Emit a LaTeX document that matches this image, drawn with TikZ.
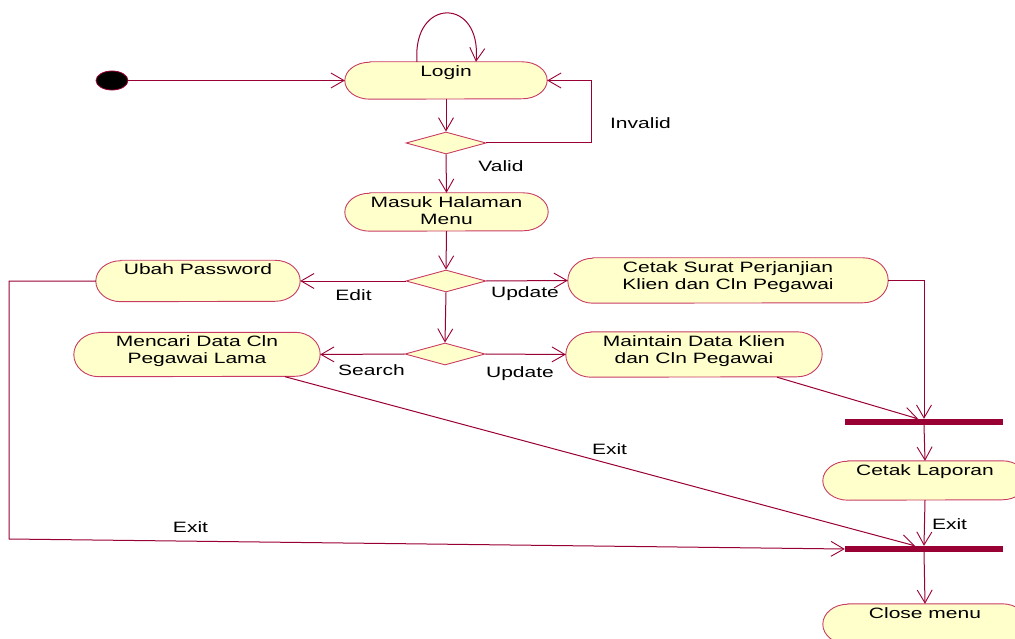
\documentclass[tikz,border=0pt]{standalone}
\usepackage{fontspec}
\setmainfont{Liberation Sans}[FakeStretch=1.4]
\usetikzlibrary{arrows.meta,shapes.geometric,backgrounds}
\definecolor{flow}{RGB}{153,0,51}
\definecolor{edge}{RGB}{200,60,100}
\definecolor{actbg}{RGB}{255,255,204}

\tikzset{
  flowline/.style={draw=flow, line width=1pt,
    -{Straight Barb[length=13pt,width=15pt,line width=0.9pt]}},
  actbox/.style={rectangle, inner sep=0pt},
  actfill/.style={fill=actbg, draw=edge, line width=0.9pt},
  acttext/.style={anchor=north, inner sep=0pt, align=center,
    font=\fontsize{15}{17}\selectfont, yshift=-3.5pt},
  gate/.style={diamond, draw=edge, fill=actbg, line width=0.9pt,
    minimum width=80pt, minimum height=22pt, inner sep=0pt, shape aspect=3.6},
  bar/.style={rectangle, fill=flow, minimum width=158pt, minimum height=6pt, inner sep=0pt},
  guard/.style={anchor=base, inner sep=0pt, font=\fontsize{15}{17}\selectfont},
}

% activity: name, centre x, centre y, width, height, text
\newcommand\actnode[6]{%
  \node[actbox, minimum width=#4pt, minimum height=#5pt,
        label={[acttext]north:{#6}}] (#1) at (#2,#3) {};
  \begin{pgfonlayer}{background}
    \path[actfill] ([xshift=25pt]#1.north west) -- ([xshift=-25pt]#1.north east)
      arc[start angle=90, end angle=-90, x radius=25pt, y radius=#5pt/2]
      -- ([xshift=25pt]#1.south west)
      arc[start angle=270, end angle=90, x radius=25pt, y radius=#5pt/2] -- cycle;
  \end{pgfonlayer}}

\begin{document}
\begin{tikzpicture}[x=1pt, y=-1pt]
\useasboundingbox (0,0) rectangle (1015,639);

% initial state
\node[ellipse, fill=black, draw=flow, line width=0.8pt, minimum width=32pt,
      minimum height=19pt, inner sep=0pt] (start) at (112,80.5) {};

% activities
\actnode{login}{446}{80.5}{202}{37}{Login}
\actnode{masuk}{446.5}{212}{203}{38}{Masuk Halaman\\Menu}
\actnode{ubah}{198}{281}{204}{41}{Ubah Password}
\actnode{cetak}{728}{280.5}{320}{45}{Cetak Surat Perjanjian\\Klien dan Cln Pegawai}
\actnode{mencari}{197}{354.5}{246}{44}{Mencari Data Cln\\Pegawai Lama}
\actnode{maintain}{694}{354.5}{256}{45}{Maintain Data Klien\\dan Cln Pegawai}
\actnode{laporan}{925}{480.5}{204}{39}{Cetak Laporan}
\actnode{close}{925}{624}{204}{40}{Close menu}

% decisions
\node[gate] (d1) at (446,143) {};
\node[gate] (d2) at (446,281) {};
\node[gate] (d3) at (445,354) {};

% synchronisation bars
\node[bar] (fork1) at (924,422) {};
\node[bar] (fork2) at (924,549) {};

% bend points
\coordinate (inv) at (591,143);
\coordinate (c1) at (9,281);
\coordinate (c2) at (9,539);

% transitions
\draw[flowline] (start.east) -- (login.west);
\draw[flowline] ([xshift=-29pt]login.north) .. controls +(-5,-65) and +(6,-65) .. ([xshift=30pt]login.north);
\draw[flowline] (login.south) -- (d1.north);
\draw[flowline] (d1.east) -- (inv) |- (login.east);
\draw[flowline] (d1.south) -- (masuk.north);
\draw[flowline] (masuk.south) -- (d2.north);
\draw[flowline] (d2.west) -- (ubah.east);
\draw[flowline] (d2.east) -- (cetak.west);
\draw[flowline] (d2.south) -- (d3.north);
\draw[flowline] (d3.west) -- (mencari.east);
\draw[flowline] (d3.east) -- (maintain.west);
\draw[flowline] (cetak.east) -| (fork1.north);
\draw[flowline] ([xshift=83pt]maintain.south) -- ([xshift=-6pt]fork1.north);
\draw[flowline] (fork1.south) -- (laporan.north);
\draw[flowline] (laporan.south) -- (fork2.north);
\draw[flowline] ([xshift=88pt]mencari.south) -- ([xshift=-9pt]fork2.north);
\draw[flowline] (ubah.west) -- (c1) -- (c2) -- (fork2.west);
\draw[flowline] (fork2.south) -- (close.north);

% guard labels
\node[guard] at (640.5,129) {Invalid};
\node[guard] at (501,172) {Valid};
\node[guard] at (353.5,301) {Edit};
\node[guard] at (525,298) {Update};
\node[guard] at (371.5,375) {Search};
\node[guard] at (520,377) {Update};
\node[guard] at (609.5,454) {Exit};
\node[guard] at (190.5,532) {Exit};
\node[guard] at (949.5,529) {Exit};
\end{tikzpicture}
\end{document}
